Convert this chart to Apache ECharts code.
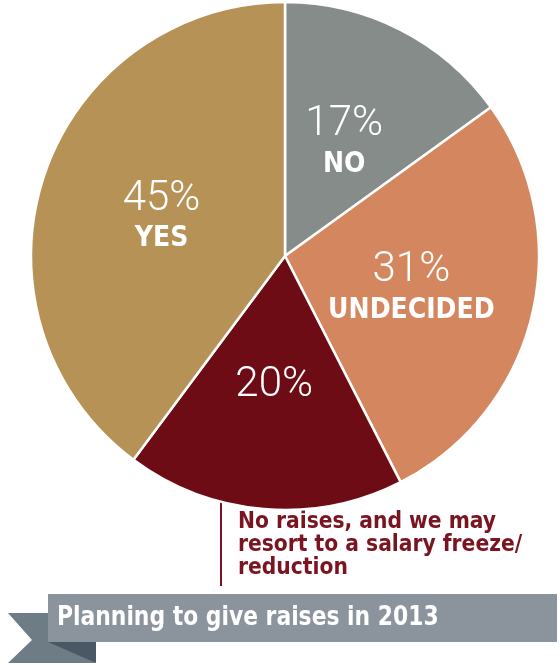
<!DOCTYPE html>
<html>
<head>
<meta charset="utf-8">
<script src="https://cdn.jsdelivr.net/npm/echarts@6/dist/echarts.min.js"></script>
<style>
  html, body { margin: 0; padding: 0; background: #ffffff; }
  #chart { width: 560px; height: 665px; }
</style>
</head>
<body>
<div id="chart"></div>
<script>
// Survey answers, clockwise from twelve o'clock
var answers = ['NO', 'UNDECIDED', 'NO RAISES', 'YES'];
var shares = [17, 31, 20, 45];
var sliceColors = ['#868c8a', '#d4875f', '#6e0c16', '#b79257'];
var showName = [true, true, false, true];

var title = 'Planning to give raises in 2013';
var noteLines = ['No raises, and we may', 'resort to a salary freeze/', 'reduction'];

var condensed = "'Liberation Sans Narrow', 'DejaVu Sans Condensed', 'Arial Narrow', sans-serif";
var light = "Roboto, 'Open Sans', sans-serif";

var chart = echarts.init(document.getElementById('chart'), null, { renderer: 'canvas' });

var pieData = answers.map(function (name, i) {
  return {
    name: name,
    value: shares[i],
    itemStyle: { color: sliceColors[i] },
    label: {
      formatter: showName[i] ? '{p|{c}%}\n{n|{b}}' : '{p|{c}%}'
    }
  };
});

chart.setOption({
  animation: false,
  series: [{
    type: 'pie',
    center: [285, 256],
    radius: [0, 254],
    startAngle: 90,
    clockwise: true,
    data: pieData,
    itemStyle: { borderColor: '#ffffff', borderWidth: 2.5 },
    label: {
      show: true,
      position: 'inside',
      color: '#ffffff',
      align: 'center',
      rich: {
        p: { fontFamily: light, fontSize: 42, fontWeight: 300, color: '#ffffff', lineHeight: 48 },
        n: { fontFamily: condensed, fontSize: 28, fontWeight: 'bold', color: '#ffffff', lineHeight: 32 }
      }
    },
    labelLine: { show: false },
    emphasis: { disabled: true }
  }],
  graphic: [
    // Leader from the no-raises slice down to its note
    { type: 'line', shape: { x1: 221, y1: 496, x2: 221, y2: 586 },
      style: { stroke: '#7a1420', lineWidth: 2 } },
    { type: 'text', x: 238, y: 510, scaleX: 0.96,
      style: { text: noteLines.join('\n'), font: 'bold 23.5px ' + condensed,
               fill: '#7a1420', lineHeight: 23, verticalAlign: 'top' } },
    // Ribbon tail and fold
    { type: 'polygon',
      shape: { points: [[8, 613], [60, 613], [60, 642], [96, 663], [8, 663], [32, 640]] },
      style: { fill: '#6e7c86' } },
    { type: 'polygon',
      shape: { points: [[48, 642], [96, 642], [96, 663]] },
      style: { fill: '#4a5865' } },
    // Ribbon body
    { type: 'rect', shape: { x: 48, y: 594, width: 509, height: 48 },
      style: { fill: '#8b949c' } },
    { type: 'text', x: 57, y: 604, scaleX: 0.9,
      style: { text: title, font: 'bold 27px ' + condensed, fill: '#ffffff', verticalAlign: 'top' } }
  ]
});
</script>
</body>
</html>
